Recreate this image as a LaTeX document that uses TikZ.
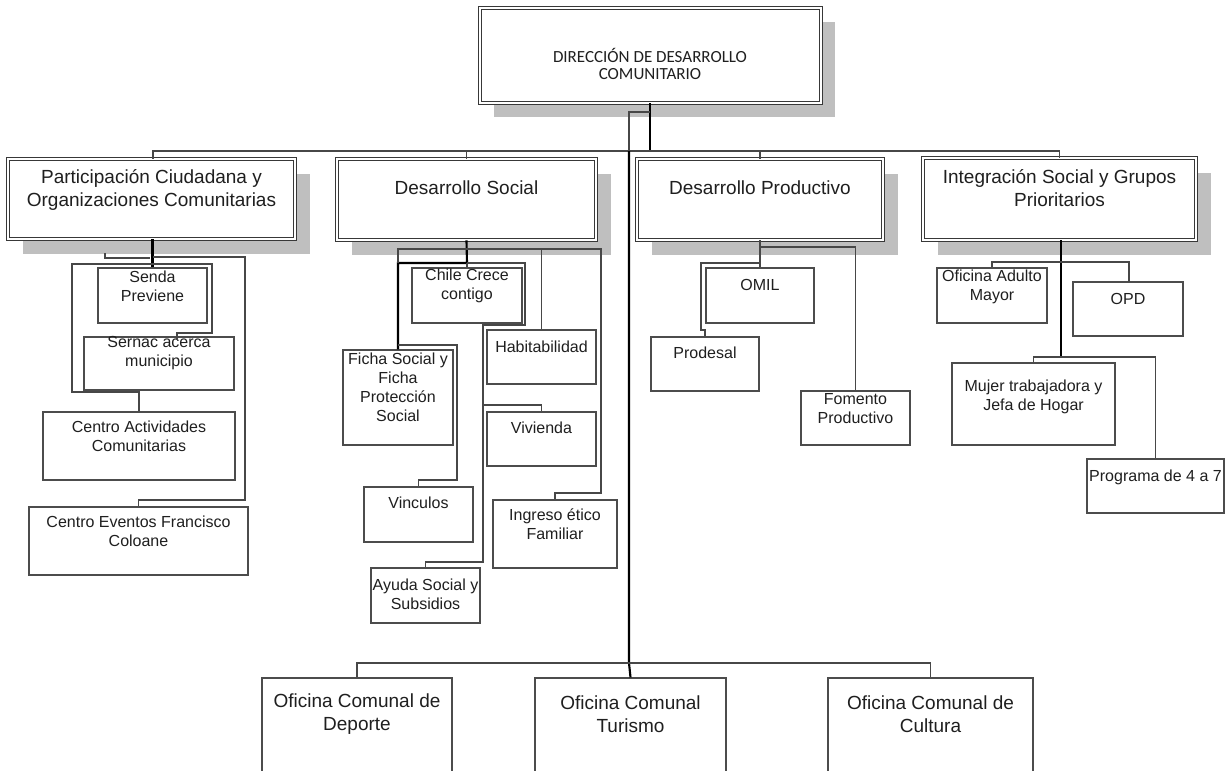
\documentclass[tikz,border=0pt]{standalone}
\usepackage{fontspec}
\setmainfont{Liberation Sans}
\newfontfamily\calib{Carlito}
\newcommand\orgsub[7]{%
  \node[subbox, sz={#4-#2}{#5-#3}] (#1) at ({(#2+#4)/2},{(#3+#5)/2}) {};
  \node[lvthree] (#1-t) at ({(#2+#4)/2},#7) {#6};}
\newcommand\orgmain[7]{%
  \fill[shadowc] (#2+15,#3+15) rectangle (#4+15,#5+15);
  \node[mainbox, sz={#4-#2}{#5-#3}] (#1) at ({(#2+#4)/2},{(#3+#5)/2}) {};
  \node[lvtwo] (#1-t) at ({(#2+#4)/2},#7) {#6};}
\newcommand\orgoff[7]{%
  \node[subbox, sz={#4-#2}{#5-#3}] (#1) at ({(#2+#4)/2},{(#3+#5)/2}) {};
  \node[lvoff] (#1-t) at ({(#2+#4)/2},#7) {#6};}
\begin{document}
\begin{tikzpicture}[x=0.75pt,y=-0.75pt,
  sz/.style 2 args={minimum width=(#1)*0.75pt, minimum height=(#2)*0.75pt},
  shadowc/.style={fill=black!25},
  mainbox/.style={draw=black!78, line width=0.7pt, double=white, double distance=1.4pt, fill=white, inner sep=0pt},
  subbox/.style={draw=black!70, line width=0.9pt, fill=white, inner sep=0pt},
  conn/.style={draw=black!72, line width=0.9pt},
  thickconn/.style={draw=black, line width=1.6pt},
  lvtwo/.style={font=\fontsize{14.25}{17.5}\selectfont, align=center, text=black!88, inner sep=0pt},
  lvthree/.style={font=\fontsize{12}{14.3}\selectfont, align=center, text=black!88, inner sep=0pt},
  lvoff/.style={font=\fontsize{14.25}{17.3}\selectfont, align=center, text=black!88, inner sep=0pt},
  toptxt/.style={font=\calib\fontsize{12.75}{12.9}\selectfont, align=center, text=black!88, inner sep=0pt}
]
\useasboundingbox (0,0) rectangle (1225,771);
\clip (0,0) rectangle (1225,771);
\fill[white] (0,0) rectangle (1225,771);

% top box
\fill[shadowc] (494,22) rectangle (835,117);
\node[mainbox, sz={341}{95}] (top) at (650.5,55.5) {};
\node[toptxt] (top-t) at (650,64) {DIRECCIÓN DE DESARROLLO\\COMUNITARIO};

% level 2
\orgmain{part}{8}{159}{295}{239}{Participación Ciudadana y\\Organizaciones Comunitarias}{190}
\orgmain{dsoc}{337}{159}{596}{240}{Desarrollo Social}{188}
\orgmain{dprod}{637}{159}{883}{240}{Desarrollo Productivo}{188}
\orgmain{integ}{923}{158}{1196}{240}{Integración Social y Grupos\\Prioritarios}{188}

% level 3 - participación
\orgsub{senda}{98}{268}{207}{323}{Senda\\Previene}{286}
\orgsub{sernac}{84}{337}{234}{390}{Sernac acerca\\municipio}{353.5}
\orgsub{cact}{43}{412}{235}{480}{Centro Actividades\\Comunitarias}{436}
\orgsub{cev}{29}{507}{248}{575}{Centro Eventos Francisco\\Coloane}{531.5}

% level 3 - desarrollo social
\orgsub{chile}{412}{268}{522}{323}{Chile Crece\\contigo}{285.5}
\orgsub{habit}{487}{330}{596}{384}{Habitabilidad}{347}
\orgsub{ficha}{343}{350}{453}{445}{Ficha Social y\\Ficha\\Protección\\Social}{387.5}
\orgsub{viv}{487}{412}{596}{466}{Vivienda}{428}
\orgsub{vinc}{364}{487}{473}{542}{Vinculos}{503}
\orgsub{ingr}{493}{500}{617}{568}{Ingreso ético\\Familiar}{524.5}
\orgsub{ayuda}{371}{568}{480}{623}{Ayuda Social y\\Subsidios}{594.5}

% level 3 - desarrollo productivo
\orgsub{omil}{706}{268}{814}{323}{OMIL}{285}
\orgsub{prodesal}{651}{337}{759}{391}{Prodesal}{353}
\orgsub{fomento}{801}{391}{910}{445}{Fomento\\Productivo}{408.5}

% level 3 - integración
\orgsub{adulto}{937}{268}{1047}{323}{Oficina Adulto\\Mayor}{287}
\orgsub{opd}{1073}{282}{1183}{336}{OPD}{299}
\orgsub{mujer}{952}{363}{1115}{445}{Mujer trabajadora y\\Jefa de Hogar}{397}
\orgsub{prog}{1087}{459}{1224}{513}{Programa de 4 a 7}{477}

% offices
\orgoff{depo}{262}{678}{452}{800}{Oficina Comunal de\\Deporte}{714}
\orgoff{turi}{535}{678}{726}{800}{Oficina Comunal\\Turismo}{714}
\orgoff{cult}{828}{678}{1033}{800}{Oficina Comunal de\\Cultura}{714}

% ---- connectors ----
% top
\draw[thickconn] (top.south -| 650,0) -- (650,151);
\draw[conn] (629,151) -- (629,112) -- (650,112);
\draw[conn] (part.north -| 153,0) -- (153,151) -- (integ.north |- 0,151) -- (integ.north);
\draw[conn] (dsoc.north |- 0,151) -- (dsoc.north);
\draw[conn] (dprod.north |- 0,151) -- (dprod.north);
\draw[thickconn] (629,151) -- (629,663) -- (turi.north);
\draw[conn] (depo.north) |- (cult.north |- 0,663) -- (cult.north);

% participación
\draw[thickconn] (part.south -| senda.north) -- (senda.north);
\draw[conn] (105,253) -- (105,258) -- (150,258);
\draw[conn] (153,257) -- (245,257) -- (245,500) -| (cev.north);
\draw[conn] (212,264) -- (72,264) -- (72,392) -| (cact.north);
\draw[conn] (153,264) -- (212,264) -- (212,333) -- (177,333) -- (177,340);

% desarrollo social
\draw[thickconn] (dsoc.south) -- (467,263) -- (398,263) -- (ficha.north);
\draw[conn] (467,263) -- (chile.north);
\draw[conn] (398,263) -- (398,249) -- (601,249) -- (601,493) -| (ingr.north);
\draw[conn] (habit.north |- 0,249) -- (habit.north);
\draw[conn] (398,345) -- (457,345) -- (457,480) -| (vinc.north);
\draw[conn] (467,263) -- (525,263) -- (525,325) -- (483,325) -- (483,562) -| (ayuda.north);
\draw[conn] (483,405) -| (viv.north);

% desarrollo productivo
\draw[conn] (dprod.south) -- (omil.north);
\draw[conn] (760,247) -| (fomento.north);
\draw[conn] (760,263) -- (701,263) -- (701,330) -| (prodesal.north);

% integración
\draw[thickconn] (integ.south -| 1061,0) -- (1061,357);
\draw[conn] (adulto.north) |- (1129,262) -- (1129,282);
\draw[conn] (mujer.north) |- (prog.north |- 0,357) -- (prog.north);
\end{tikzpicture}
\end{document}
